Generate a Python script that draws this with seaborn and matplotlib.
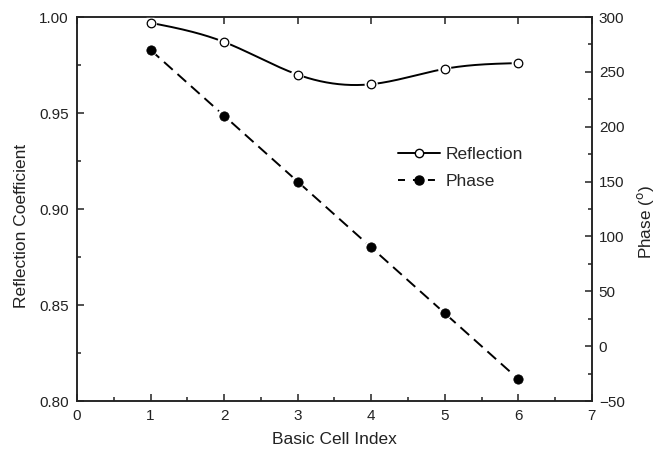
import numpy as np
import pandas as pd
import seaborn as sns
import matplotlib.pyplot as plt
from matplotlib.ticker import MultipleLocator
from matplotlib.lines import Line2D

cell_index = [1, 2, 3, 4, 5, 6]
reflection = [0.997, 0.987, 0.970, 0.965, 0.973, 0.976]
phase = [270, 210, 150, 90, 30, -30]


def natural_spline(x, y, num=300):
    # smooth connecting line through the points (Origin-style spline)
    x = np.asarray(x, float)
    y = np.asarray(y, float)
    n = len(x)
    h = np.diff(x)
    A = np.zeros((n, n))
    rhs = np.zeros(n)
    A[0, 0] = A[-1, -1] = 1
    for i in range(1, n - 1):
        A[i, i - 1] = h[i - 1]
        A[i, i] = 2 * (h[i - 1] + h[i])
        A[i, i + 1] = h[i]
        rhs[i] = 6 * ((y[i + 1] - y[i]) / h[i] - (y[i] - y[i - 1]) / h[i - 1])
    M = np.linalg.solve(A, rhs)
    xs = np.linspace(x[0], x[-1], num)
    k = np.clip(np.searchsorted(x, xs) - 1, 0, n - 2)
    t0 = x[k + 1] - xs
    t1 = xs - x[k]
    hk = h[k]
    ys = (M[k] * t0**3 + M[k + 1] * t1**3) / (6 * hk) \
        + (y[k] / hk - M[k] * hk / 6) * t0 + (y[k + 1] / hk - M[k + 1] * hk / 6) * t1
    return xs, ys


sns.set_style("ticks")
plt.rcParams["font.family"] = ["Liberation Sans", "DejaVu Sans"]
plt.rcParams["axes.linewidth"] = 1.1

df = pd.DataFrame({"cell": cell_index, "refl": reflection, "phase": phase})
xs, ys = natural_spline(cell_index, reflection)

fig = plt.figure(figsize=(6.62, 4.49), dpi=100)
ax = fig.add_axes([0.1163, 0.1069, 0.7777, 0.8552])
ax2 = ax.twinx()

# reflection: smooth solid line, open circles with small gap
sns.lineplot(x=xs, y=ys, ax=ax, color="black", linewidth=1.4, zorder=2)
sns.scatterplot(data=df, x="cell", y="refl", ax=ax, s=90, color="white",
                edgecolor="none", zorder=3)
sns.scatterplot(data=df, x="cell", y="refl", ax=ax, s=38, color="white",
                edgecolor="black", linewidth=0.9, zorder=4)

# phase: dashed straight line, filled circles
sns.lineplot(data=df, x="cell", y="phase", ax=ax2, color="black", linewidth=1.4,
             dashes=False, zorder=2)
ax2.lines[-1].set_dashes([6, 3.3])
sns.scatterplot(data=df, x="cell", y="phase", ax=ax2, s=100, color="white",
                edgecolor="none", zorder=3)
sns.scatterplot(data=df, x="cell", y="phase", ax=ax2, s=45, color="black",
                edgecolor="black", zorder=4)

ax.set_xlim(0, 7)
ax.set_ylim(0.80, 1.00)
ax2.set_ylim(-50, 300)

ax.xaxis.set_major_locator(MultipleLocator(1))
ax.xaxis.set_minor_locator(MultipleLocator(0.5))
ax.yaxis.set_major_locator(MultipleLocator(0.05))
ax.yaxis.set_minor_locator(MultipleLocator(0.025))
ax2.yaxis.set_major_locator(MultipleLocator(50))
ax2.yaxis.set_minor_locator(MultipleLocator(25))
ax.yaxis.set_major_formatter(plt.FormatStrFormatter("%.2f"))

ax.tick_params(which="both", direction="in", top=True, right=False,
               labelsize=11, pad=6, color="#222222", labelcolor="#222222")
ax.tick_params(which="major", length=5, width=1.1)
ax.tick_params(which="minor", length=3, width=1.1, top=False)
ax2.tick_params(which="both", direction="in", labelsize=11, pad=5,
                color="#222222", labelcolor="#222222")
ax2.tick_params(which="major", length=5, width=1.1)
ax2.tick_params(which="minor", length=3, width=1.1)

for a in (ax, ax2):
    for sp in a.spines.values():
        sp.set_visible(True)
        sp.set_color("#222222")

ax.set_xlabel("Basic Cell Index", fontsize=12.5, color="#222222")
ax.set_ylabel("Reflection Coefficient", fontsize=12.5, color="#222222")
ax2.set_ylabel("Phase ($^{\\mathrm{o}}$)", fontsize=12.3, color="#222222")
ax.xaxis.set_label_coords(0.5, -0.0807)
ax.yaxis.set_label_coords(-0.093, 0.456)
ax2.yaxis.set_label_coords(1.0835, 0.466)

handles = [
    Line2D([], [], color="black", linewidth=1.4, marker="o", markersize=6,
           markerfacecolor="white", markeredgecolor="black"),
    Line2D([], [], color="black", linewidth=1.4, linestyle=(0, (3.6, 4.1)),
           marker="o", markersize=6.5, markerfacecolor="black"),
]
ax2.legend(handles, ["Reflection", "Phase"], loc="center left",
           bbox_to_anchor=(0.601, 0.625), bbox_transform=fig.transFigure,
           frameon=False, fontsize=12.5, handlelength=2.4, handletextpad=0.35,
           labelspacing=0.68, borderpad=0, borderaxespad=0)

fig.savefig("out.png", dpi=100)
plt.close(fig)
